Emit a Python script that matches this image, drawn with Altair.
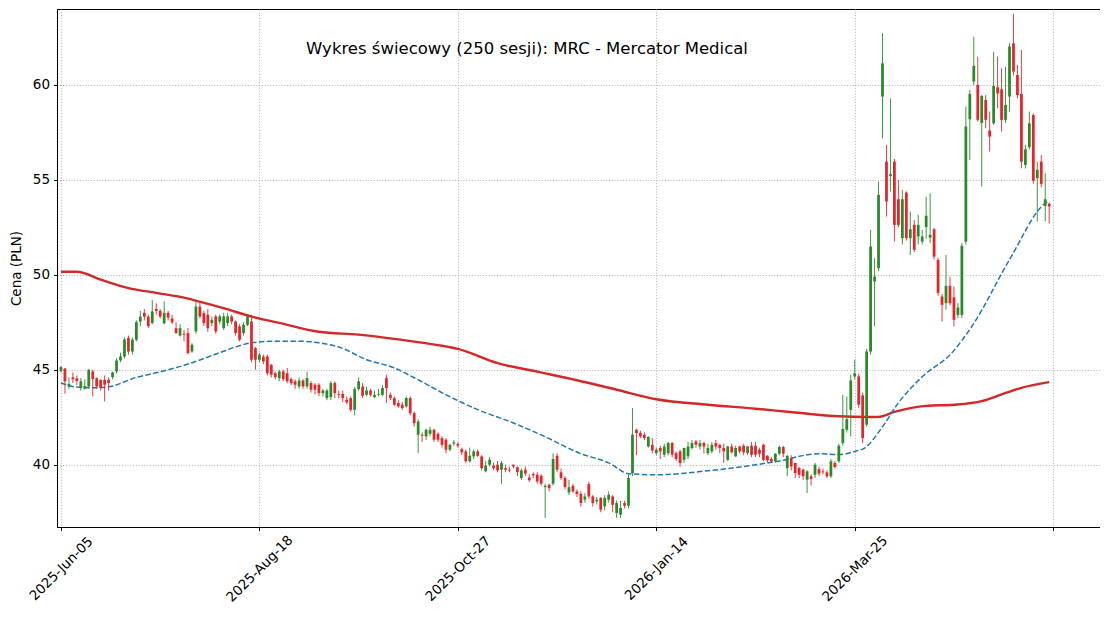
import altair as alt
import pandas as pd

opens = [44.93,45.07,44.12,44.60,44.55,44.04,44.00,44.12,44.91,44.56,44.47,44.47,44.47,44.61,44.91,45.49,45.70,46.67,45.96,46.58,
47.54,48.00,47.80,47.46,48.20,48.10,47.45,48.00,47.70,47.19,46.80,46.90,46.93,45.96,47.02,48.33,47.98,47.90,47.46,47.81,
47.54,47.19,47.46,47.81,47.54,47.28,46.93,47.37,47.54,46.14,45.53,45.70,45.70,45.26,44.82,44.56,44.91,44.82,44.51,44.39,
44.12,44.44,44.12,44.30,44.21,44.21,43.77,43.51,43.56,44.30,43.72,43.72,43.42,43.51,42.89,43.98,44.12,43.68,43.91,43.56,
43.68,43.68,44.56,43.68,43.51,43.25,43.16,43.07,43.51,42.72,41.58,41.58,41.49,41.63,41.84,41.63,41.40,41.32,40.79,41.11,
41.09,40.82,40.70,40.18,40.44,40.70,40.44,39.65,40.00,39.95,40.00,39.74,39.82,39.74,40.00,39.87,39.30,39.74,39.33,39.51,
39.47,39.42,38.82,38.95,39.00,40.47,39.60,39.30,38.54,38.89,38.60,38.47,38.16,38.98,38.33,38.07,38.25,37.81,38.16,38.33,
37.46,37.37,37.98,37.84,39.56,41.84,41.67,41.58,40.96,41.05,40.61,40.88,40.53,40.61,41.14,40.61,40.70,40.26,40.44,40.88,
41.23,40.96,41.14,40.61,40.70,41.14,41.05,40.88,40.26,40.96,40.44,40.96,41.00,40.61,41.00,41.00,40.79,41.05,40.47,40.30,
40.18,40.58,40.93,39.82,40.35,40.09,39.82,39.74,39.21,39.39,39.47,39.77,39.65,39.60,39.39,40.09,40.18,41.14,41.84,42.89,
44.65,44.65,43.65,42.11,45.96,49.65,50.35,59.39,55.96,55.20,55.96,53.98,51.93,54.33,51.93,52.63,52.02,51.75,52.51,51.96,
52.40,50.79,48.86,48.51,49.42,48.82,47.89,47.89,51.75,58.19,60.18,60.00,58.00,59.21,57.60,57.98,59.88,59.77,58.16,59.39,
62.19,60.53,59.53,55.79,56.72,58.42,55.09,55.96,53.63,53.75]

highs = [45.20,45.10,44.60,44.85,44.70,44.56,44.50,45.05,45.00,44.60,44.50,44.70,44.60,44.90,45.61,45.90,46.70,46.80,46.70,47.60,
48.10,48.20,47.90,48.68,48.50,48.20,48.60,48.10,47.90,47.50,47.40,47.10,47.20,46.40,48.60,48.60,48.10,48.20,47.80,47.90,
47.90,48.00,48.00,47.90,47.60,47.40,47.50,47.90,47.90,46.20,45.90,45.80,45.80,45.30,44.90,45.00,45.00,45.10,44.60,44.50,
44.60,44.50,44.90,44.40,44.30,44.30,44.00,44.00,44.40,44.40,43.90,43.90,43.60,43.60,44.10,44.60,44.30,44.10,44.00,43.90,
44.00,44.20,44.74,43.80,43.60,43.40,43.30,43.60,43.60,42.80,42.40,41.70,41.90,42.00,41.90,41.70,41.50,41.40,41.10,41.30,
41.20,40.90,40.80,40.90,40.80,40.80,40.50,40.20,40.40,40.10,40.20,40.20,40.00,39.90,40.00,39.90,39.80,39.90,39.50,39.60,
39.60,39.50,39.00,39.00,40.60,40.60,39.80,39.40,39.20,39.00,38.70,38.60,38.50,39.10,38.40,38.30,38.30,38.40,38.60,38.40,
38.10,38.10,38.10,39.50,42.98,41.90,41.80,41.70,41.50,41.40,40.90,41.00,41.10,41.20,41.20,40.70,40.80,40.90,41.20,41.30,
41.30,41.30,41.20,41.10,41.20,41.30,41.10,41.10,41.00,41.10,41.00,41.00,41.10,41.00,41.20,41.20,40.90,41.10,40.50,40.40,
40.60,41.00,41.00,40.50,40.50,40.10,39.90,39.80,39.70,39.50,40.10,39.90,39.80,39.70,40.30,40.20,41.10,43.68,43.60,44.74,
45.53,44.80,43.80,46.10,52.37,50.88,54.91,62.72,56.84,59.30,56.10,55.00,54.47,54.40,53.33,52.89,53.16,52.37,54.12,54.30,
52.46,50.90,49.00,51.05,49.91,49.39,48.51,51.67,58.86,59.74,62.54,61.49,59.47,59.47,58.60,61.75,61.49,60.88,60.96,62.20,
63.74,61.05,61.84,56.84,58.60,58.50,55.96,56.32,55.35,53.80]

lows = [44.85,43.74,44.00,44.30,44.20,43.90,43.95,44.00,43.60,44.00,43.90,43.33,43.90,44.50,44.80,45.40,45.60,45.80,45.80,46.50,
47.30,47.60,47.20,47.40,47.90,47.70,47.40,47.60,47.40,46.90,46.75,46.50,45.80,45.90,46.90,47.70,47.30,47.00,47.30,46.90,
47.40,47.10,47.30,47.40,46.80,46.50,46.80,47.30,45.40,45.00,45.40,45.30,44.70,44.60,44.50,44.40,44.40,44.30,44.20,44.00,
44.00,44.00,44.00,43.80,43.70,43.60,43.60,43.40,43.40,43.50,43.50,43.30,43.20,42.80,42.60,43.90,43.50,43.60,43.60,43.50,
43.60,43.60,43.25,43.40,43.10,43.00,42.90,43.00,42.60,42.00,40.61,41.20,41.30,41.50,41.20,41.20,40.90,40.60,40.70,41.00,
40.90,40.50,40.10,40.10,40.30,40.40,39.70,39.60,39.90,39.70,39.60,39.00,39.60,39.60,39.80,39.40,39.20,39.40,39.10,39.30,
39.00,38.90,37.19,38.60,38.90,39.60,39.20,38.70,38.40,38.50,38.30,37.80,38.00,38.20,37.80,37.90,37.50,37.60,38.00,37.50,
37.20,37.20,37.70,37.70,39.40,40.50,41.40,41.30,40.90,40.60,40.50,40.30,40.40,40.50,40.40,40.20,39.90,40.10,40.30,40.80,
40.90,40.80,40.60,40.50,40.60,40.80,40.60,40.10,40.20,40.60,40.40,40.60,40.50,40.50,40.40,40.40,40.40,40.20,40.10,40.10,
40.10,40.50,40.40,39.40,39.70,39.30,39.30,39.20,38.51,38.90,39.30,39.40,39.50,39.30,39.30,39.80,40.10,41.00,41.70,41.49,
44.50,43.00,41.14,42.00,45.80,47.28,50.20,57.19,53.07,54.39,51.75,52.50,51.60,51.80,51.05,51.20,51.60,51.60,51.90,51.67,
50.80,48.90,47.54,48.16,48.40,47.28,47.72,47.72,51.60,56.05,60.00,58.07,54.65,57.72,56.49,57.90,58.77,57.54,58.00,58.60,
60.50,59.30,55.61,55.60,56.60,54.80,52.81,54.60,52.81,52.72]

closes = [45.14,44.39,44.25,44.50,44.40,44.39,44.14,45.00,44.51,44.12,44.04,44.21,44.30,44.86,45.49,45.70,46.60,45.96,46.58,47.51,
47.80,47.80,47.30,48.07,48.10,47.80,48.00,47.75,47.50,46.93,47.19,46.85,45.88,46.32,48.33,47.81,47.46,47.19,47.63,47.02,
47.81,47.81,47.81,47.54,46.93,46.58,47.37,47.81,45.53,45.53,45.79,45.44,44.82,44.74,44.61,44.91,44.51,44.39,44.30,44.21,
44.44,44.12,44.56,43.95,43.95,43.77,43.91,43.91,44.30,43.77,43.68,43.51,43.28,42.89,43.98,44.39,43.63,43.91,43.68,43.68,
43.72,44.04,44.04,43.51,43.16,43.07,42.98,43.51,42.72,42.19,42.28,41.53,41.84,41.84,41.32,41.32,41.05,40.79,41.05,41.18,
41.00,40.65,40.18,40.47,40.70,40.47,39.82,39.95,40.26,39.82,39.70,40.09,39.74,39.70,39.91,39.61,39.70,39.53,39.18,39.44,
39.12,39.00,38.89,38.77,40.30,39.74,39.30,38.82,38.81,38.60,38.46,37.98,38.33,38.33,37.98,38.16,37.63,38.25,38.42,37.89,
37.98,37.72,37.84,39.30,41.58,41.67,41.49,41.40,41.46,40.75,40.79,40.70,40.96,41.14,40.53,40.30,40.09,40.88,40.96,41.14,
41.05,41.14,40.96,40.88,41.05,40.96,40.88,40.70,40.96,40.65,40.88,40.70,40.65,40.96,40.53,40.53,40.58,40.26,40.23,40.18,
40.58,40.93,40.58,40.47,39.91,39.56,39.47,39.39,39.65,39.25,40.00,39.53,39.60,39.39,40.18,39.88,41.00,41.88,42.40,44.44,
44.82,43.16,41.40,45.96,51.49,49.91,54.21,61.14,53.86,55.30,52.63,52.63,53.98,51.93,52.40,51.32,52.63,52.02,53.11,52.11,
50.96,49.04,48.42,49.42,48.51,47.63,48.28,51.53,57.81,59.53,61.00,58.16,59.42,58.16,57.28,59.95,59.56,58.16,58.95,62.02,
60.70,59.47,55.96,56.61,57.98,54.96,55.53,54.79,53.98,53.60]

# moving averages at session positions
ma_short_idx = [0, 3.5, 8, 12, 19, 24, 32, 40, 44, 48, 53, 61, 65, 70, 77, 84, 89, 98, 105, 114, 122, 131, 138, 143, 150, 163,
                180, 191, 196, 200, 202.5, 207, 211, 217, 224.5, 229.5, 239, 248, 249]
ma_short_val = [44.3, 44.1, 44.05, 44.1, 44.6, 44.84, 45.3, 45.9, 46.2, 46.42, 46.5, 46.5, 46.42, 46.2, 45.53, 45.1, 44.58, 43.58,
                42.9, 42.2, 41.47, 40.58, 40.1, 39.53, 39.47, 39.68, 40.16, 40.58, 40.53, 40.7, 40.88, 42.0, 43.26, 44.63, 45.9,
                47.28, 50.8, 53.77, 53.9]
ma_long_idx = [0, 4, 10, 17, 24, 31, 35, 41, 48, 55, 65, 75, 85, 95, 100, 110, 120, 130, 140, 150, 163, 175, 185, 196, 203,
               206, 210, 218, 225, 232, 237, 242, 249]
ma_long_val = [50.16, 50.16, 49.75, 49.3, 49.05, 48.8, 48.58, 48.25, 47.8, 47.47, 47.0, 46.85, 46.6, 46.3, 46.1, 45.35, 44.9,
               44.45, 43.95, 43.45, 43.16, 42.95, 42.75, 42.55, 42.51, 42.52, 42.78, 43.1, 43.16, 43.35, 43.7, 44.05, 44.35]

tick_idx = [0, 50, 100, 150, 200, 250]
tick_labels = ["2025-Jun-05", "2025-Aug-18", "2025-Oct-27", "2026-Jan-14", "2026-Mar-25", ""]
title_text = "Wykres świecowy (250 sesji): MRC - Mercator Medical"

GREEN = "#2a8a2a"
RED = "#e3262b"
FONT = "DejaVu Sans"

df = pd.DataFrame({"idx": list(range(len(closes))), "open": opens, "high": highs, "low": lows, "close": closes})
df["dir"] = ["up" if c >= o else "down" for o, c in zip(opens, closes)]

ma_s = pd.DataFrame({"idx": ma_short_idx, "val": ma_short_val})
ma_l = pd.DataFrame({"idx": ma_long_idx, "val": ma_long_val})

label_expr = ""
for t, l in zip(tick_idx, tick_labels):
    label_expr += f"datum.value == {t} ? '{l}' : "
label_expr += "''"

xscale = alt.Scale(domain=[-1, 261.8], nice=False, zero=False)
yscale = alt.Scale(domain=[36.72, 64.0], nice=False, zero=False)
color = alt.Color("dir:N", scale=alt.Scale(domain=["up", "down"], range=[GREEN, RED]), legend=None)

xaxis = alt.Axis(values=tick_idx, labelExpr=label_expr, title=None, labelAngle=315, labelAlign="center",
                 labelBaseline="middle", labelPadding=38, tickSize=3.5, grid=True)
yaxis = alt.Axis(values=[40, 45, 50, 55, 60], title="Cena (PLN)", tickSize=3.5, grid=True, labelPadding=4,
                 titlePadding=9)

base = alt.Chart(df)
wicks = base.mark_rule(strokeWidth=0.9, clip=True).encode(
    x=alt.X("idx:Q", scale=xscale, axis=xaxis),
    y=alt.Y("low:Q", scale=yscale, axis=yaxis),
    y2="high:Q",
    color=color,
)
bodies = base.transform_calculate(
    x0="datum.idx - 0.35", x1="datum.idx + 0.35"
).mark_rect(clip=True).encode(
    x=alt.X("x0:Q", scale=xscale),
    x2="x1:Q",
    y=alt.Y("open:Q", scale=yscale),
    y2="close:Q",
    color=color,
)
line_long = alt.Chart(ma_l).mark_line(color="#d62728", strokeWidth=2.4, interpolate="monotone", clip=True).encode(
    x=alt.X("idx:Q", scale=xscale), y=alt.Y("val:Q", scale=yscale))
line_short = alt.Chart(ma_s).mark_line(color="#1f77b4", strokeWidth=1.5, strokeDash=[5.5, 2.4],
                                       interpolate="monotone", clip=True).encode(
    x=alt.X("idx:Q", scale=xscale), y=alt.Y("val:Q", scale=yscale))

title = alt.Chart(alt.Data(values=[{"t": title_text}])).mark_text(
    font=FONT, fontSize=16.5, color="black", align="center", baseline="middle"
).encode(x=alt.value(470), y=alt.value(40), text="t:N")

chart = alt.layer(line_long, line_short, wicks, bodies, title).properties(
    width=1043, height=518, autosize="none",
    padding={"left": 49, "top": 1, "right": 0, "bottom": 85},
).configure_view(stroke="black", strokeWidth=1).configure_axis(
    labelFont=FONT, titleFont=FONT, labelFontSize=13.5, titleFontSize=13.5, titleFontWeight="normal",
    labelColor="black", titleColor="black", domainColor="black", tickColor="black",
    gridColor="#aaaaaa", gridDash=[1, 1.8], gridWidth=0.9,
)

chart.save("out.html", embed_options={"renderer": "svg", "actions": False})
